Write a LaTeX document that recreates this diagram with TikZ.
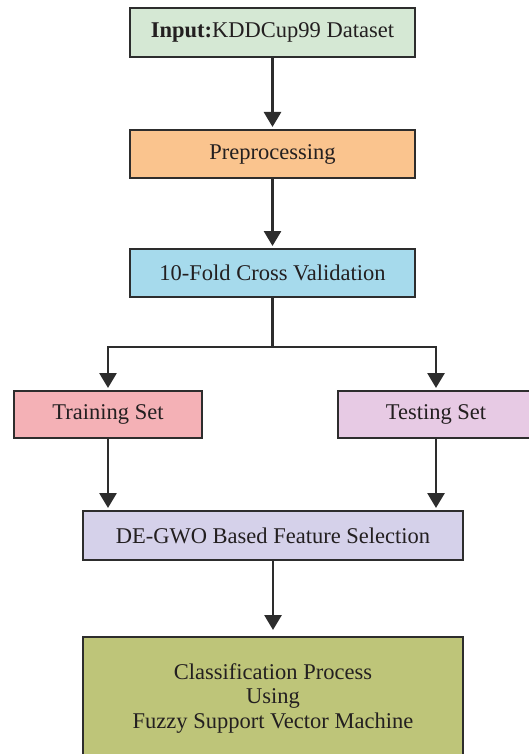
\documentclass[tikz,border=0pt]{standalone}
\usepackage{fontspec}
\setmainfont{Liberation Serif}
\usetikzlibrary{arrows.meta}
\definecolor{bordc}{RGB}{45,45,45}
\definecolor{txtc}{RGB}{35,31,32}
\definecolor{cin}{RGB}{213,232,212}
\definecolor{cpre}{RGB}{250,196,142}
\definecolor{ccv}{RGB}{166,218,236}
\definecolor{ctrain}{RGB}{244,177,182}
\definecolor{ctest}{RGB}{231,202,228}
\definecolor{cde}{RGB}{213,209,234}
\definecolor{ccls}{RGB}{190,197,121}
\tikzset{
  box/.style={draw=bordc, line width=2pt, inner sep=0pt, align=center,
    font=\fontsize{22.5}{24.5}\selectfont, text=txtc},
  arr/.style={draw=bordc, line width=2.8pt, -{Triangle[width=17pt,length=15pt]}},
  ln/.style={draw=bordc, line width=2.8pt},
}
\begin{document}
\begin{tikzpicture}[x=1pt,y=-1pt]
\useasboundingbox (0,0) rectangle (529,754);
\node[box, fill=cin, minimum width=285pt, minimum height=49pt] (in) at (272.5,32.5) {\textbf{Input:}KDDCup99 Dataset};
\node[box, fill=cpre, minimum width=285pt, minimum height=48pt] (pre) at (272.5,154) {Preprocessing};
\node[box, fill=ccv, minimum width=285pt, minimum height=48pt] (cv) at (272.5,273) {10-Fold Cross Validation};
\node[box, fill=ctrain, minimum width=188pt, minimum height=47pt] (train) at (108,414.5) {Training Set};
\node[box, fill=ctest, minimum width=196pt, minimum height=47pt] (test) at (436,414.5) {Testing Set};
\node[box, fill=cde, minimum width=380pt, minimum height=49pt] (de) at (273,535.5) {DE-GWO Based Feature Selection};
\node[box, fill=ccls, minimum width=380pt, minimum height=122pt] (cls) at (273,698) {Classification Process\\Using\\Fuzzy Support Vector Machine};
\coordinate (split) at (272.5,347);
\draw[arr, shorten >=2pt] (in.south) -- (pre.north);
\draw[arr, shorten >=2pt] (pre.south) -- (cv.north);
\draw[ln] (cv.south) -- (split);
\draw[arr, shorten >=2pt] (split) -| (train.north);
\draw[arr, shorten >=2pt] (split) -| (test.north);
\draw[arr, shorten >=2pt] (train.south) -- (train.south |- de.north);
\draw[arr, shorten >=2pt] (test.south) -- (test.south |- de.north);
\draw[arr, shorten >=6pt] (de.south) -- (cls.north);
\end{tikzpicture}
\end{document}
